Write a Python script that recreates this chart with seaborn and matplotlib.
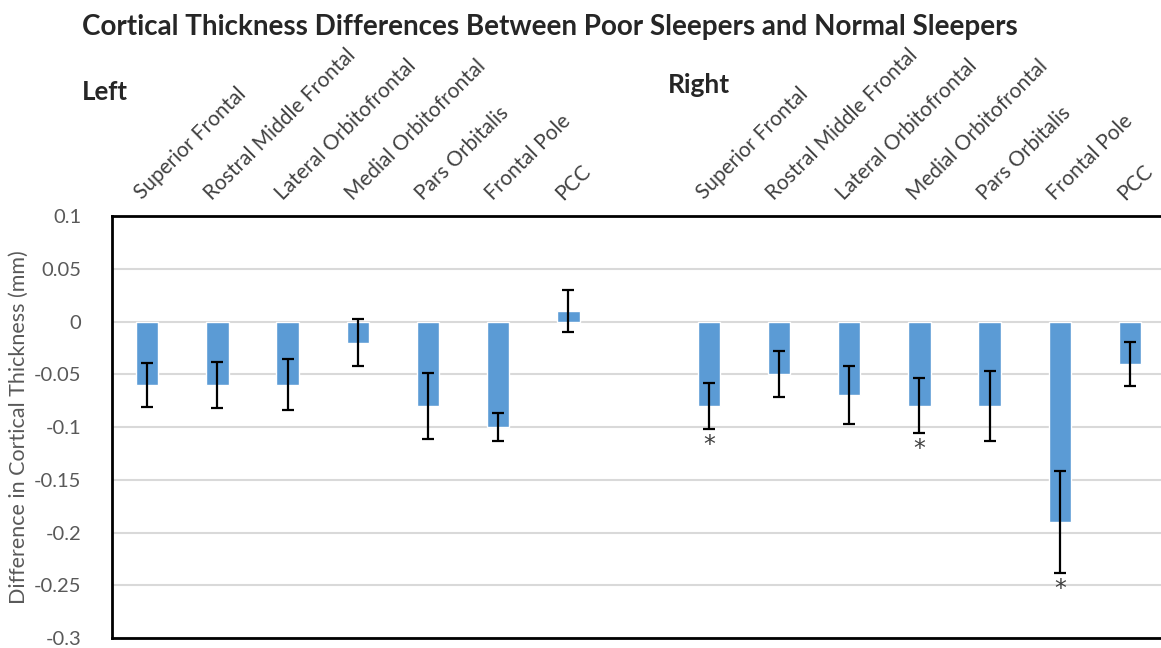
import numpy as np
import pandas as pd
import matplotlib
matplotlib.use("Agg")
import matplotlib.pyplot as plt
import matplotlib.transforms as mtransforms
import seaborn as sns

# Data
regions = ["Superior Frontal", "Rostral Middle Frontal", "Lateral Orbitofrontal",
           "Medial Orbitofrontal", "Pars Orbitalis", "Frontal Pole", "PCC"]
left_diff = [-0.06, -0.06, -0.06, -0.02, -0.08, -0.10, 0.01]
left_err = [0.021, 0.022, 0.024, 0.0225, 0.0315, 0.013, 0.020]
right_diff = [-0.08, -0.05, -0.07, -0.08, -0.08, -0.19, -0.04]
right_err = [0.0215, 0.022, 0.0276, 0.026, 0.0328, 0.048, 0.021]
right_signif = [True, False, False, True, False, True, False]

# Build table; one empty slot between hemispheres
keys_left = ["L " + r for r in regions]
keys_right = ["R " + r for r in regions]
order = keys_left + ["gap"] + keys_right
df = pd.DataFrame({
    "slot": keys_left + keys_right,
    "diff": left_diff + right_diff,
    "err": left_err + right_err,
})
df["pos"] = df["slot"].map({k: i for i, k in enumerate(order)})

sns.set_style("white")
plt.rcParams["font.family"] = ["Lato", "DejaVu Sans"]

fig = plt.figure(figsize=(11.61, 6.48), dpi=100)
ax = fig.add_axes([112 / 1161, 1 - 638 / 648, 1 - 112 / 1161, (638 - 216) / 648])

sns.barplot(data=df, x="slot", y="diff", order=order, color="#5B9BD5",
            saturation=1, width=0.32, errorbar=None, ax=ax, zorder=2)
ax.errorbar(df["pos"], df["diff"], yerr=df["err"], fmt="none", ecolor="black",
            elinewidth=1.6, capsize=4.5, capthick=1.6, zorder=3)

# significance stars (right hemisphere)
right_df = df[df["slot"].str.startswith("R ")].reset_index(drop=True)
for i, row in right_df.iterrows():
    if right_signif[i]:
        ax.annotate("*", (row["pos"], row["diff"] - row["err"]),
                    xytext=(0, -3), textcoords="offset points",
                    ha="center", va="top", fontsize=17, color="#404040",
                    family="DejaVu Sans")

ax.set_ylim(-0.3, 0.1)
ax.set_xlim(-0.5, 14.44)
yt = np.arange(-0.3, 0.101, 0.05)
ax.set_yticks(yt)
ax.set_yticklabels([f"{v:g}" if abs(v) > 1e-9 else "0" for v in yt],
                   fontsize=14.5, color="#595959")
ax.tick_params(axis="y", length=0, pad=22)
ax.yaxis.grid(True, color="#D9D9D9", linewidth=1.5, zorder=0)
ax.set_axisbelow(True)
ax.set_ylabel("Difference in Cortical Thickness (mm)", fontsize=15.5,
              color="#595959", labelpad=4)
ax.set_xlabel("")

# category labels on top, rotated
ax.xaxis.tick_top()
ax.tick_params(axis="x", length=0, pad=9)
ax.set_xticks(range(len(order)))
ax.set_xticklabels([k[2:] if k != "gap" else "" for k in order],
                   rotation=45, ha="left", va="bottom", rotation_mode="anchor",
                   fontsize=15, color="#404040")
shift = mtransforms.ScaledTranslation(-2 / 100, 0, fig.dpi_scale_trans)
for lab in ax.get_xticklabels():
    lab.set_transform(lab.get_transform() + shift)

for side in ["left", "top", "bottom"]:
    ax.spines[side].set_visible(True)
    ax.spines[side].set_color("black")
    ax.spines[side].set_linewidth(2)
ax.spines["right"].set_visible(False)

fig.text(82 / 1161, 1 - 27 / 648,
         "Cortical Thickness Differences Between Poor Sleepers and Normal Sleepers",
         fontsize=20, fontweight="bold", ha="left", va="center")
fig.text(82 / 1161, 1 - 92 / 648, "Left", fontsize=18.5, fontweight="bold",
         ha="left", va="center")
fig.text(668 / 1161, 1 - 85 / 648, "Right", fontsize=19, fontweight="bold",
         ha="left", va="center")

fig.savefig("out.png", dpi=100)
